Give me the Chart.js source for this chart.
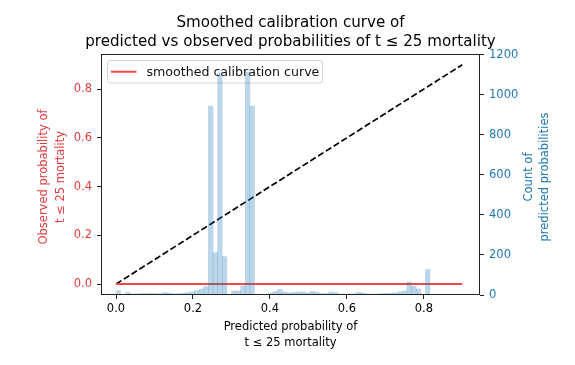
<!DOCTYPE html>
<html><head><meta charset="utf-8">
<script src="https://cdn.jsdelivr.net/npm/chart.js@4"></script>
<style>html,body{margin:0;padding:0;background:#fff;}canvas{display:block;}</style>
</head><body>
<canvas id="c" width="575" height="365" style="width:575px;height:365px"></canvas>
<script>
// ---- data ----
const binCenters = [0.006,0.018,0.030,0.042,0.054,0.066,0.078,0.090,0.102,0.114,
  0.126,0.138,0.150,0.162,0.174,0.186,0.198,0.210,0.222,0.234,
  0.246,0.258,0.270,0.282,0.294,0.306,0.318,0.330,0.342,0.354,
  0.366,0.378,0.390,0.402,0.414,0.426,0.438,0.450,0.462,0.474,
  0.486,0.498,0.510,0.522,0.534,0.546,0.558,0.570,0.582,0.594,
  0.606,0.618,0.630,0.642,0.654,0.666,0.678,0.690,0.702,0.714,
  0.726,0.738,0.750,0.762,0.774,0.786,0.798,0.810];
const binCounts = [22,0,12,6,6,7,7,8,7,6,
  12,10,6,6,8,12,16,22,30,42,
  945,212,1110,192,0,20,20,45,1115,945,
  0,0,0,10,17,28,15,10,13,15,
  15,10,17,15,7,7,15,12,5,5,
  5,6,13,10,5,4,5,7,8,8,
  10,15,20,65,44,30,0,128];
const curveX = [0.0, 0.9];
const curveY = [0.0, 0.0];
const diagX = [0.0, 0.9];
const diagY = [0.0, 0.9];
const xTicks = [0.0, 0.2, 0.4, 0.6, 0.8];
const yTicks = [0.0, 0.2, 0.4, 0.6, 0.8];
const countTicks = [0, 200, 400, 600, 800, 1000, 1200];
const titleLines = ['Smoothed calibration curve of', 'predicted vs observed probabilities of t \u2264 25 mortality'];
const xLabel = ['Predicted probability of', 't \u2264 25 mortality'];
const yLabel = ['Observed probability of', 't \u2264 25 mortality'];
const y2Label = ['Count of', 'predicted probabilities'];
const curveLabel = 'smoothed calibration curve';

// ---- styles ----
const FONT = "'DejaVu Sans', sans-serif";
const RED_LINE = '#ec4a4c';
const RED_TXT = '#e03c40';
const BLUE_TXT = '#1f77b4';
const BAR = 'rgba(31,119,180,0.3)';
const FS = 11.5;
Chart.defaults.font.family = FONT;

function rotatedLabel(ctx, lines, x0, cy, step, color) {
  ctx.save();
  ctx.fillStyle = color; ctx.font = FS + 'px ' + FONT;
  ctx.textAlign = 'center'; ctx.textBaseline = 'middle';
  lines.forEach((t, i) => {
    ctx.save();
    ctx.translate(x0 + i * step, cy);
    ctx.rotate(-Math.PI / 2);
    ctx.fillText(t, 0, 0);
    ctx.restore();
  });
  ctx.restore();
}

const extras = {
  id: 'extras',
  beforeDatasetsDraw(chart) {
    const {ctx, chartArea: a} = chart;
    const x = a.left + 6.5, y = a.top + 6.5, w = 215, h = 22.5, r = 2.5;
    ctx.save();
    ctx.beginPath();
    ctx.moveTo(x + r, y); ctx.lineTo(x + w - r, y); ctx.arcTo(x + w, y, x + w, y + r, r);
    ctx.lineTo(x + w, y + h - r); ctx.arcTo(x + w, y + h, x + w - r, y + h, r);
    ctx.lineTo(x + r, y + h); ctx.arcTo(x, y + h, x, y + h - r, r);
    ctx.lineTo(x, y + r); ctx.arcTo(x, y, x + r, y, r); ctx.closePath();
    ctx.fillStyle = 'rgba(255,255,255,0.8)'; ctx.fill();
    ctx.strokeStyle = '#d3d3d3'; ctx.lineWidth = 1; ctx.stroke();
    ctx.beginPath(); ctx.moveTo(x + 3.5, y + h / 2); ctx.lineTo(x + 29, y + h / 2);
    ctx.strokeStyle = RED_LINE; ctx.lineWidth = 2; ctx.stroke();
    ctx.fillStyle = '#111'; ctx.font = '12.6px ' + FONT;
    ctx.textBaseline = 'middle'; ctx.textAlign = 'left';
    ctx.fillText(chart.data.datasets[1].label, x + 39, y + h / 2 + 0.5);
    ctx.restore();
  },
  afterDatasetsDraw(chart) {
    const {ctx, chartArea: a} = chart;
    ctx.save();
    ctx.strokeStyle = '#222'; ctx.lineWidth = 1;
    ctx.strokeRect(a.left + 0.5, a.top + 0.5, a.right - a.left - 1, a.bottom - a.top - 1);
    ctx.restore();
  },
  afterDraw(chart) {
    const {ctx, chartArea: a} = chart;
    const cy = (a.top + a.bottom) / 2 + 2.5;
    rotatedLabel(ctx, yLabel, a.left - 57, cy, 16.7, RED_TXT);
    rotatedLabel(ctx, y2Label, a.right + 49, cy, 16.5, BLUE_TXT);
  }
};

new Chart(document.getElementById('c'), {
  type: 'bar',
  data: {
    datasets: [
      { type: 'bar', label: 'count', data: binCenters.map((c, i) => ({x: c, y: binCounts[i]})),
        backgroundColor: BAR, borderWidth: 0, barPercentage: 1, categoryPercentage: 1,
        yAxisID: 'y2', order: 0 },
      { type: 'line', label: curveLabel, data: curveX.map((v, i) => ({x: v, y: curveY[i]})),
        borderColor: RED_LINE, borderWidth: 2, pointRadius: 0, tension: 0, fill: false,
        yAxisID: 'y', order: 1 },
      { type: 'line', label: 'perfect', data: diagX.map((v, i) => ({x: v, y: diagY[i]})),
        borderColor: '#000', borderWidth: 1.7, borderDash: [6.4, 2.8], pointRadius: 0, tension: 0, fill: false,
        yAxisID: 'y', order: 2 }
    ]
  },
  options: {
    responsive: false, animation: false, events: [],
    layout: { padding: { left: 6, right: 0, top: 0, bottom: 0 } },
    plugins: {
      legend: { display: false }, tooltip: { enabled: false },
      title: { display: true, text: titleLines, color: '#000', fullSize: true,
        font: { size: 15.1, weight: 'normal', lineHeight: 1.278 }, padding: { top: 13.3, bottom: 2.1 } }
    },
    scales: {
      x: { type: 'linear', position: 'bottom', min: -0.039, max: 0.946, offset: false,
        afterBuildTicks: s => { s.ticks = xTicks.map(v => ({value: v})); },
        afterFit: s => { s.height = 70; },
        ticks: { color: '#000', font: { size: FS }, padding: 3.5, maxRotation: 0, autoSkip: false,
          callback: v => Number(v).toFixed(1) },
        grid: { drawOnChartArea: false, drawTicks: true, tickLength: 4, color: '#222', offset: false },
        border: { display: false },
        title: { display: true, text: xLabel, color: '#000', font: { size: FS, lineHeight: 1.4 },
          padding: { top: 0, bottom: 13.5 } } },
      y: { type: 'linear', position: 'left', min: -0.045, max: 0.944,
        afterBuildTicks: s => { s.ticks = yTicks.map(v => ({value: v})); },
        afterFit: s => { s.width = 95; },
        ticks: { color: RED_TXT, font: { size: FS }, padding: 5, autoSkip: false,
          callback: v => Number(v).toFixed(1) },
        grid: { drawOnChartArea: false, drawTicks: true, tickLength: 4, color: '#222' },
        border: { display: false },
        title: { display: false, text: yLabel } },
      y2: { type: 'linear', position: 'right', min: 0, max: 1205,
        afterBuildTicks: s => { s.ticks = countTicks.map(v => ({value: v})); },
        afterFit: s => { s.width = 95; },
        ticks: { color: BLUE_TXT, font: { size: FS }, padding: 5, autoSkip: false,
          callback: v => String(v) },
        grid: { drawOnChartArea: false, drawTicks: true, tickLength: 4, color: '#222' },
        border: { display: false },
        title: { display: false, text: y2Label } }
    }
  },
  plugins: [extras]
});
</script>
</body></html>
